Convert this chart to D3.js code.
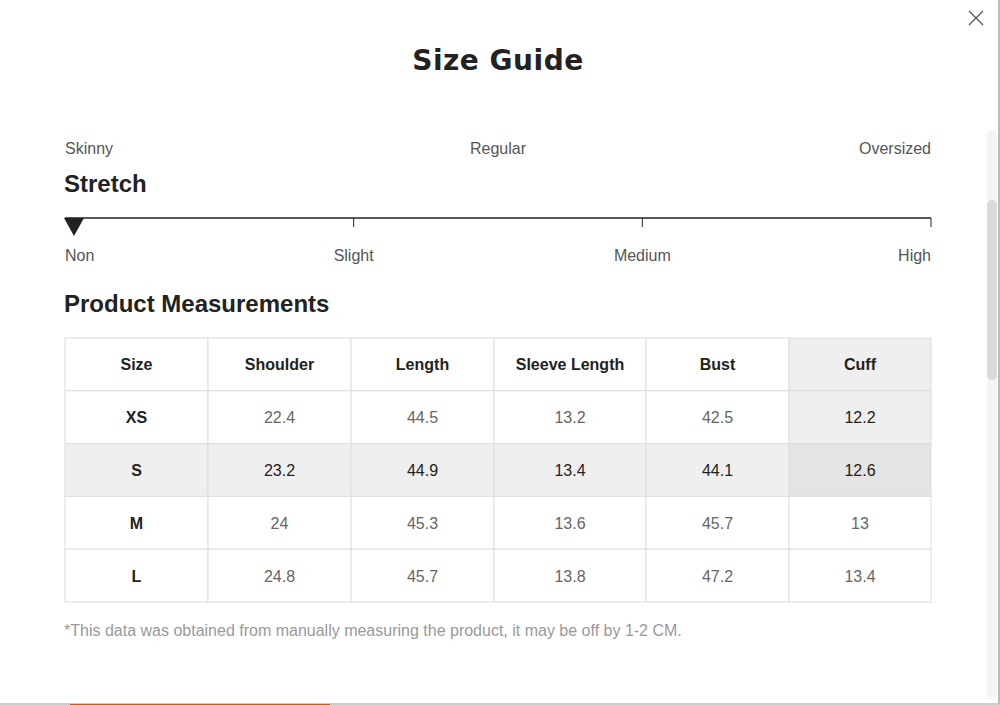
<!DOCTYPE html>
<html><head><meta charset="utf-8">
<script src="https://cdn.jsdelivr.net/npm/d3@7"></script>
<style>body{margin:0;background:#fff;font-family:"Liberation Sans",Arial,sans-serif;}</style>
</head><body>
<div id="chart"></div>
<script>
const fitLabels = ["Skinny","Regular","Oversized"];
const stretchLabels = ["Non","Slight","Medium","High"];
const stretchValue = "Non";
const columns = ["Size","Shoulder","Length","Sleeve Length","Bust","Cuff"];
const sizes = ["XS","S","M","L"];
const shoulder = [22.4,23.2,24,24.8];
const lengthV = [44.5,44.9,45.3,45.7];
const sleeve = [13.2,13.4,13.6,13.8];
const bust = [42.5,44.1,45.7,47.2];
const cuff = [12.2,12.6,13,13.4];

var W = 1000, H = 705;
var svg = d3.select("#chart").append("svg").attr("width",W).attr("height",H);

// bottom page strip & modal edges
svg.append("rect").attr("x",0).attr("y",703).attr("width",W).attr("height",2).attr("fill","#ccc");
svg.append("rect").attr("x",70).attr("y",704).attr("width",260).attr("height",1).attr("fill","#c85a20");
svg.append("rect").attr("x",998).attr("y",0).attr("width",2).attr("height",704).attr("fill","#bbb");
// scrollbar
svg.append("rect").attr("x",987).attr("y",130).attr("width",10).attr("height",570).attr("rx",5).attr("fill","#f4f4f4");
svg.append("rect").attr("x",987).attr("y",200).attr("width",10).attr("height",180).attr("rx",5).attr("fill","#dadada");
// close
svg.append("path").attr("d","M969,11L983,25M983,11L969,25").attr("stroke","#555").attr("stroke-width",1.3);

svg.append("text").attr("x",498).attr("y",70).attr("text-anchor","middle")
  .attr("font-size",28).attr("font-weight","900").attr("fill","#222")
  .attr("font-family","'DejaVu Sans',sans-serif").attr("letter-spacing","0.5").text("Size Guide");

var x0 = 65, x1 = 931;
var fitX = d3.scalePoint().domain(fitLabels).range([x0,x1]);
svg.selectAll(".fit").data(fitLabels).enter().append("text")
  .attr("x",d=>fitX(d)).attr("y",154).attr("font-size",16).attr("fill","#555")
  .attr("text-anchor",(d,i)=>i==0?"start":i==2?"end":"middle").text(d=>d);

svg.append("text").attr("x",64).attr("y",192).attr("font-size",24).attr("font-weight","bold").attr("fill","#222").text("Stretch");

var sX = d3.scalePoint().domain(stretchLabels).range([x0,x1]);
svg.append("line").attr("x1",x0).attr("x2",x1).attr("y1",218).attr("y2",218).attr("stroke","#222").attr("stroke-width",1.3);
svg.selectAll(".tk").data(stretchLabels.slice(1)).enter().append("line")
  .attr("x1",d=>sX(d)).attr("x2",d=>sX(d)).attr("y1",218).attr("y2",227).attr("stroke","#222");
svg.append("path").attr("transform",`translate(${sX(stretchValue)+9},218)`)
  .attr("d","M-10,0L10,0L0,18Z").attr("fill","#222");
svg.selectAll(".sl").data(stretchLabels).enter().append("text")
  .attr("x",d=>sX(d)).attr("y",261).attr("font-size",16).attr("fill","#555")
  .attr("text-anchor",(d,i)=>i==0?"start":i==3?"end":"middle").text(d=>d);

svg.append("text").attr("x",64).attr("y",312).attr("font-size",24).attr("font-weight","bold").attr("fill","#222").text("Product Measurements");

var colEdges = [65,208,351,494,646,789,931];
var yS = d3.scaleBand().domain(["head"].concat(sizes)).range([338,602]);
var rows = sizes.map((s,i)=>[s,shoulder[i],lengthV[i],sleeve[i],bust[i],cuff[i]]);
var all = [columns].concat(rows);
var keys = ["head"].concat(sizes);
all.forEach(function(r,ri){
  var y = yS(keys[ri]), h = yS.bandwidth();
  r.forEach(function(v,ci){
    var fill = "#fff";
    if(ci==5 && ri<=1) fill = "#efefef";
    if(ri==2) fill = ci==5 ? "#e4e4e4" : "#efefef";
    svg.append("rect").attr("x",colEdges[ci]).attr("y",y).attr("width",colEdges[ci+1]-colEdges[ci]).attr("height",h)
      .attr("fill",fill).attr("stroke","#ddd");
    var bold = ri==0 || ci==0;
    var dark = bold || ri==2 || ci==5 && ri==1;
    svg.append("text").attr("x",(colEdges[ci]+colEdges[ci+1])/2).attr("y",y+h/2+6)
      .attr("text-anchor","middle").attr("font-size",16).attr("font-weight",bold?"bold":"normal")
      .attr("fill",dark?"#222":"#666").text(v);
  });
});

svg.append("text").attr("x",64).attr("y",636).attr("font-size",16).attr("fill","#999")
  .text("*This data was obtained from manually measuring the product, it may be off by 1-2 CM.");
</script>
</body></html>
